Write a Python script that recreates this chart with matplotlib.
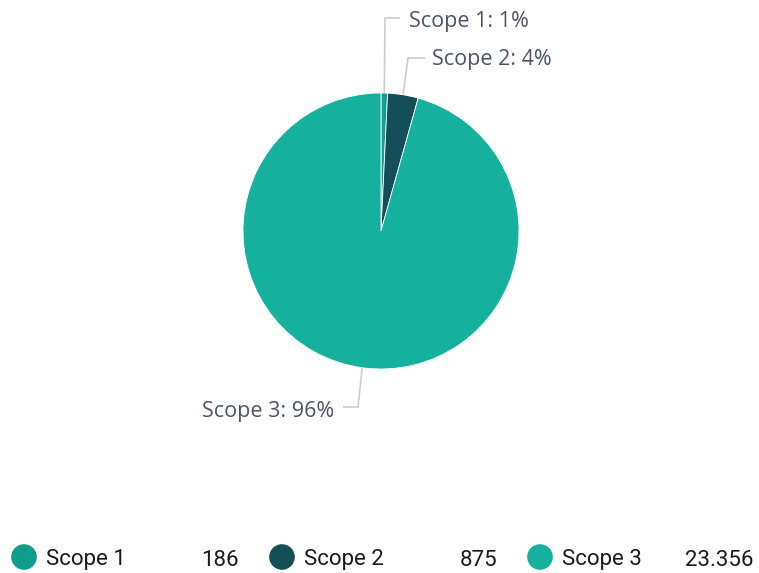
import numpy as np
import matplotlib
matplotlib.use("Agg")
import matplotlib.pyplot as plt

categories = ["Scope 1", "Scope 2", "Scope 3"]
values = [186, 875, 23356]
value_labels = ["186", "875", "23.356"]
colors = ["#0f9d8d", "#144e56", "#16b09e"]

W, H = 759, 573
fig = plt.figure(figsize=(W / 100, H / 100), dpi=100)
fig.patch.set_facecolor("white")

# pie axes: center (381,231) px, radius 138 px
cx, cy, r = 381, 231, 138
ax = fig.add_axes([(cx - r) / W, (H - cy - r) / H, 2 * r / W, 2 * r / H])

wedges, _ = ax.pie(values, colors=colors, startangle=90, counterclock=False,
                   radius=1, center=(0, 0), wedgeprops=dict(linewidth=0.6, edgecolor="white"))
ax.set_xlim(-1, 1)
ax.set_ylim(-1, 1)
ax.axis("off")

total = sum(values)
text_color = "#4a5468"
line_color = "#cccccc"

def px(x, y):
    return ((x - cx) / r, (cy - y) / r)

# leader line bends / label positions (pixel space)
bends = [((385, 18), (400, 18)), ((408, 58), (425, 58)), ((358, 407), (343, 407))]
label_pos = [((409, 21), "left"), ((432, 60), "left"), ((334, 411), "right")]

for w, v, cat, (b1, b2), (lp, ha) in zip(wedges, values, categories, bends, label_pos):
    ang = np.deg2rad((w.theta1 + w.theta2) / 2)
    ex, ey = np.cos(ang), np.sin(ang)
    p1 = px(*b1)
    p2 = px(*b2)
    ax.plot([ex, p1[0], p2[0]], [ey, p1[1], p2[1]], color=line_color, lw=1.2,
            clip_on=False, solid_capstyle="butt", zorder=0)
    pct = round(v / total * 100)
    lx, ly = px(*lp)
    ax.text(lx, ly, f"{cat}: {pct}%", ha=ha, va="center", fontsize=15.5,
            color=text_color, family=["Open Sans", "DejaVu Sans"], fontweight="normal",
            clip_on=False)

# legend
lax = fig.add_axes([0, 0, 1, 1])
lax.set_xlim(0, W)
lax.set_ylim(H, 0)
lax.axis("off")
leg_x = [24, 282, 540]
val_right = [239, 497, 754]
ly = 557
for x0, xr, cat, val, col in zip(leg_x, val_right, categories, value_labels, colors):
    lax.scatter([x0], [ly], s=340, color=col, edgecolors="none")
    lax.text(x0 + 22, ly + 3, cat, ha="left", va="center", fontsize=16,
             color="#1a1a1a", family=["Roboto", "DejaVu Sans"])
    lax.text(xr, ly + 3, val, ha="right", va="center", fontsize=16,
             color="#1a1a1a", family=["Roboto", "DejaVu Sans"])

fig.savefig("out.png", dpi=100, facecolor="white")
